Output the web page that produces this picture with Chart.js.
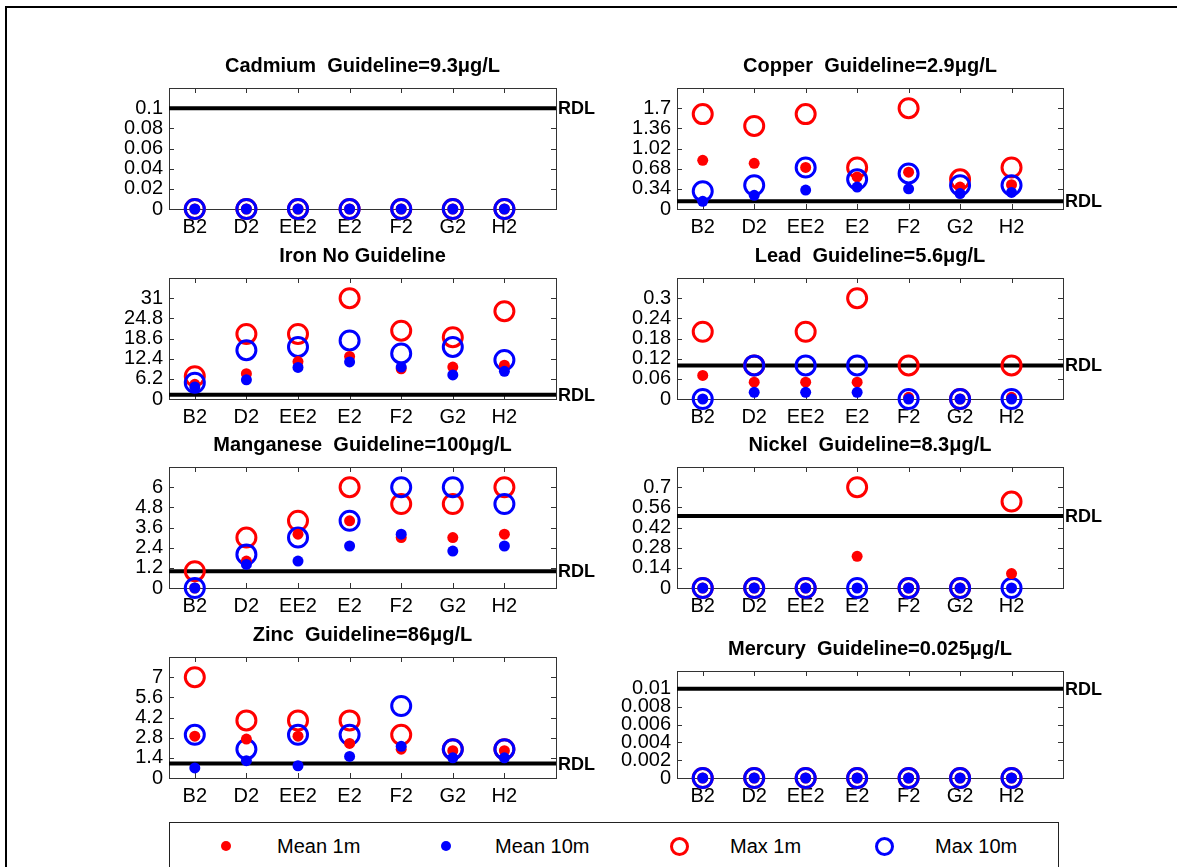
<!DOCTYPE html>
<html>
<head>
<meta charset="utf-8">
<script src="https://cdn.jsdelivr.net/npm/chart.js@4.4.1/dist/chart.umd.min.js"></script>
<style>
html,body{margin:0;padding:0;background:#fff;overflow:hidden;}
body{width:1177px;height:867px;position:relative;font-family:"Liberation Sans",Arial,sans-serif;}
#frameTop{position:absolute;left:5px;top:6px;width:1172px;height:2px;background:#000;}
#frameLeft{position:absolute;left:5px;top:6px;width:2px;height:861px;background:#000;}
canvas{position:absolute;}
#legend{position:absolute;left:169px;top:822px;width:888px;height:80px;border:1px solid #222;background:#fff;}
#legend .dot{position:absolute;width:10px;height:10px;border-radius:50%;top:18px;}
#legend .ring{position:absolute;width:13px;height:13px;border-radius:50%;border:3px solid;top:14px;}
#legend .lbl{position:absolute;top:11px;font-size:20px;line-height:24px;color:#000;white-space:nowrap;}
</style>
</head>
<body>
<div id="frameTop"></div>
<div id="frameLeft"></div>
<div id="legend">
  <div class="dot" style="left:51px;background:#ff0000;"></div>
  <div class="lbl" style="left:107px;">Mean 1m</div>
  <div class="dot" style="left:271px;background:#0000ff;"></div>
  <div class="lbl" style="left:325px;">Mean 10m</div>
  <div class="ring" style="left:500px;border-color:#ff0000;"></div>
  <div class="lbl" style="left:560px;">Max 1m</div>
  <div class="ring" style="left:705px;border-color:#0000ff;"></div>
  <div class="lbl" style="left:765px;">Max 10m</div>
</div>
<script>
// ---------------- DATA ----------------
const categories = ['B2','D2','EE2','E2','F2','G2','H2'];

const cadmiumMean1m  = [0,0,0,0,0,0,0];
const cadmiumMean10m = [0,0,0,0,0,0,0];
const cadmiumMax1m   = [0,0,0,0,0,0,0];
const cadmiumMax10m  = [0,0,0,0,0,0,0];
const cadmiumRDL = 0.1;
const cadmiumTicks = [0,0.02,0.04,0.06,0.08,0.1];
const cadmiumYMax = 0.12;

const copperMean1m  = [0.82,0.77,0.70,0.54,0.62,0.37,0.41];
const copperMean10m = [0.13,0.23,0.32,0.37,0.34,0.26,0.28];
const copperMax1m   = [1.6,1.4,1.6,0.7,1.7,0.5,0.7];
const copperMax10m  = [0.3,0.4,0.7,0.5,0.6,0.4,0.4];
const copperRDL = 0.13;
const copperTicks = [0,0.34,0.68,1.02,1.36,1.7];
const copperYMax = 2.04;

const ironMean1m  = [4.5,7.8,11.5,13.1,9.3,9.8,10.4];
const ironMean10m = [3.7,5.9,9.7,11.4,9.8,7.4,8.5];
const ironMax1m   = [7,20,20,31,21,19,27];
const ironMax10m  = [5,15,16,18,14,16,12];
const ironRDL = 1.3;
const ironTicks = [0,6.2,12.4,18.6,24.8,31];
const ironYMax = 37.2;

const leadMean1m  = [0.07,0.05,0.05,0.05,0.005,0,0.005];
const leadMean10m = [0,0.02,0.02,0.02,0,0,0];
const leadMax1m   = [0.2,0.1,0.2,0.3,0.1,0,0.1];
const leadMax10m  = [0,0.1,0.1,0.1,0,0,0];
const leadRDL = 0.1;
const leadTicks = [0,0.06,0.12,0.18,0.24,0.3];
const leadYMax = 0.36;

const manganeseMean1m  = [0,1.6,3.2,4,3,3,3.2];
const manganeseMean10m = [0,1.4,1.6,2.5,3.2,2.2,2.5];
const manganeseMax1m   = [1,3,4,6,5,5,6];
const manganeseMax10m  = [0,2,3,4,6,6,5];
const manganeseRDL = 1.0;
const manganeseTicks = [0,1.2,2.4,3.6,4.8,6];
const manganeseYMax = 7.2;

const nickelMean1m  = [0,0,0,0.22,0,0,0.1];
const nickelMean10m = [0,0,0,0,0,0,0];
const nickelMax1m   = [0,0,0,0.7,0,0,0.6];
const nickelMax10m  = [0,0,0,0,0,0,0];
const nickelRDL = 0.5;
const nickelTicks = [0,0.14,0.28,0.42,0.56,0.7];
const nickelYMax = 0.84;

const zincMean1m  = [2.9,2.7,2.9,2.4,2.0,1.9,1.9];
const zincMean10m = [0.7,1.2,0.85,1.5,2.2,1.4,1.4];
const zincMax1m   = [7,4,4,4,3,2,2];
const zincMax10m  = [3,2,3,3,5,2,2];
const zincRDL = 1.0;
const zincTicks = [0,1.4,2.8,4.2,5.6,7];
const zincYMax = 8.4;

const mercuryMean1m  = [0,0,0,0,0,0,0];
const mercuryMean10m = [0,0,0,0,0,0,0];
const mercuryMax1m   = [0,0,0,0,0,0,0];
const mercuryMax10m  = [0,0,0,0,0,0,0];
const mercuryRDL = 0.01;
const mercuryTicks = [0,0.002,0.004,0.006,0.008,0.01];
const mercuryYMax = 0.012;

const xMin = 0.5, xMax = 8;

// ---------------- LAYOUT ----------------
const FONT = '"Liberation Sans", Arial, sans-serif';
Chart.defaults.font.family = FONT;

const panels = [
  {title:'Cadmium  Guideline=9.3\u03BCg/L', m1:cadmiumMean1m, m10:cadmiumMean10m, x1:cadmiumMax1m, x10:cadmiumMax10m, rdl:cadmiumRDL, ticks:cadmiumTicks, ymax:cadmiumYMax, box:[169,88,387,121]},
  {title:'Copper  Guideline=2.9\u03BCg/L', m1:copperMean1m, m10:copperMean10m, x1:copperMax1m, x10:copperMax10m, rdl:copperRDL, ticks:copperTicks, ymax:copperYMax, box:[677,88,386,121]},
  {title:'Iron No Guideline', m1:ironMean1m, m10:ironMean10m, x1:ironMax1m, x10:ironMax10m, rdl:ironRDL, ticks:ironTicks, ymax:ironYMax, box:[169,278,387,121]},
  {title:'Lead  Guideline=5.6\u03BCg/L', m1:leadMean1m, m10:leadMean10m, x1:leadMax1m, x10:leadMax10m, rdl:leadRDL, ticks:leadTicks, ymax:leadYMax, box:[677,278,386,121]},
  {title:'Manganese  Guideline=100\u03BCg/L', m1:manganeseMean1m, m10:manganeseMean10m, x1:manganeseMax1m, x10:manganeseMax10m, rdl:manganeseRDL, ticks:manganeseTicks, ymax:manganeseYMax, box:[169,467,387,121]},
  {title:'Nickel  Guideline=8.3\u03BCg/L', m1:nickelMean1m, m10:nickelMean10m, x1:nickelMax1m, x10:nickelMax10m, rdl:nickelRDL, ticks:nickelTicks, ymax:nickelYMax, box:[677,467,386,121]},
  {title:'Zinc  Guideline=86\u03BCg/L', m1:zincMean1m, m10:zincMean10m, x1:zincMax1m, x10:zincMax10m, rdl:zincRDL, ticks:zincTicks, ymax:zincYMax, box:[169,657,387,121]},
  {title:'Mercury  Guideline=0.025\u03BCg/L', m1:mercuryMean1m, m10:mercuryMean10m, x1:mercuryMax1m, x10:mercuryMax10m, rdl:mercuryRDL, ticks:mercuryTicks, ymax:mercuryYMax, box:[677,671,386,107]}
];

const boxPlugin = {
  id:'matlabBox',
  beforeDatasetsDraw(chart){
    const {ctx, chartArea:a, scales:{x, y}} = chart;
    ctx.save();
    ctx.strokeStyle = '#333';
    ctx.lineWidth = 1;
    ctx.strokeRect(a.left + 0.5, a.top + 0.5, a.right - a.left, a.bottom - a.top);
    ctx.beginPath();
    const tl = 5;
    x.ticks.forEach(t => {
      const px = Math.round(x.getPixelForValue(t.value)) + 0.5;
      ctx.moveTo(px, a.bottom); ctx.lineTo(px, a.bottom - tl);
      ctx.moveTo(px, a.top); ctx.lineTo(px, a.top + tl);
    });
    y.ticks.forEach(t => {
      const py = Math.round(y.getPixelForValue(t.value)) + 0.5;
      ctx.moveTo(a.left, py); ctx.lineTo(a.left + tl, py);
      ctx.moveTo(a.right, py); ctx.lineTo(a.right - tl, py);
    });
    ctx.stroke();
    ctx.restore();
  },
  afterDraw(chart){
    const {ctx, chartArea:a, scales:{y}} = chart;
    const rdl = chart.options.plugins.matlabBox.rdl;
    ctx.save();
    ctx.fillStyle = '#000';
    ctx.font = 'bold 18px ' + FONT;
    ctx.textBaseline = 'middle';
    ctx.textAlign = 'left';
    ctx.fillText('RDL', a.right + 2, y.getPixelForValue(rdl) + 1);
    ctx.restore();
  }
};

function makeChart(p){
  const L = 110, T = 40, R = 60, B = 40;
  const [bx, by, bw, bh] = p.box;
  const W = bw + L + R, H = bh + T + B;
  const cv = document.createElement('canvas');
  cv.width = W; cv.height = H;
  cv.style.left = (bx - L) + 'px';
  cv.style.top = (by - T) + 'px';
  cv.style.width = W + 'px';
  cv.style.height = H + 'px';
  document.body.appendChild(cv);
  const pts = arr => arr.map((v, i) => ({x: i + 1, y: v}));
  const dot = (data, color, label) => ({label, data: pts(data), pointStyle:'circle', pointRadius:5.5, pointHoverRadius:5.5, pointBackgroundColor:color, pointBorderWidth:0, pointBorderColor:color, showLine:false, clip:false});
  const ring = (data, color, label) => ({label, data: pts(data), pointStyle:'circle', pointRadius:9.5, pointHoverRadius:9.5, pointBackgroundColor:'rgba(0,0,0,0)', pointBorderWidth:3, pointBorderColor:color, showLine:false, clip:false});
  const tickFont = {family: FONT, size: 20};
  new Chart(cv, {
    type:'scatter',
    data:{datasets:[
      dot(p.m10, '#0000ff', 'Mean 10m'),
      dot(p.m1, '#ff0000', 'Mean 1m'),
      ring(p.x10, '#0000ff', 'Max 10m'),
      ring(p.x1, '#ff0000', 'Max 1m'),
      {label:'RDL', data:[{x:xMin, y:p.rdl}, {x:xMax, y:p.rdl}], showLine:true, borderColor:'#000', borderWidth:4, borderCapStyle:'butt', pointRadius:0, pointHoverRadius:0, clip:false}
    ]},
    options:{
      responsive:false, animation:false, devicePixelRatio:1,
      events:[],
      layout:{padding:{left:0, top:0, right:R, bottom:0}},
      plugins:{
        legend:{display:false},
        tooltip:{enabled:false},
        matlabBox:{rdl:p.rdl},
        title:{display:true, fullSize:false, text:p.title, color:'#000',
               font:{family:FONT, size:20, weight:'bold', lineHeight:1.2},
               padding:{top:6, bottom:10}}
      },
      scales:{
        x:{type:'linear', position:'bottom', min:xMin, max:xMax,
           grid:{display:false, drawTicks:false}, border:{display:false},
           afterBuildTicks:s => { s.ticks = categories.map((c, i) => ({value: i + 1})); },
           afterFit:s => { s.height = B; },
           ticks:{autoSkip:false, maxRotation:0, minRotation:0, padding:6, color:'#000', font:tickFont,
                  callback:v => categories[Math.round(v) - 1]}},
        y:{type:'linear', position:'left', min:0, max:p.ymax,
           grid:{display:false, drawTicks:false}, border:{display:false},
           afterBuildTicks:s => { s.ticks = p.ticks.map(v => ({value: v})); },
           afterFit:s => { s.width = L; },
           ticks:{autoSkip:false, padding:6, color:'#000', font:tickFont,
                  callback:v => String(v)}}
      }
    },
    plugins:[boxPlugin]
  });
}

panels.forEach(makeChart);
</script>
</body>
</html>
